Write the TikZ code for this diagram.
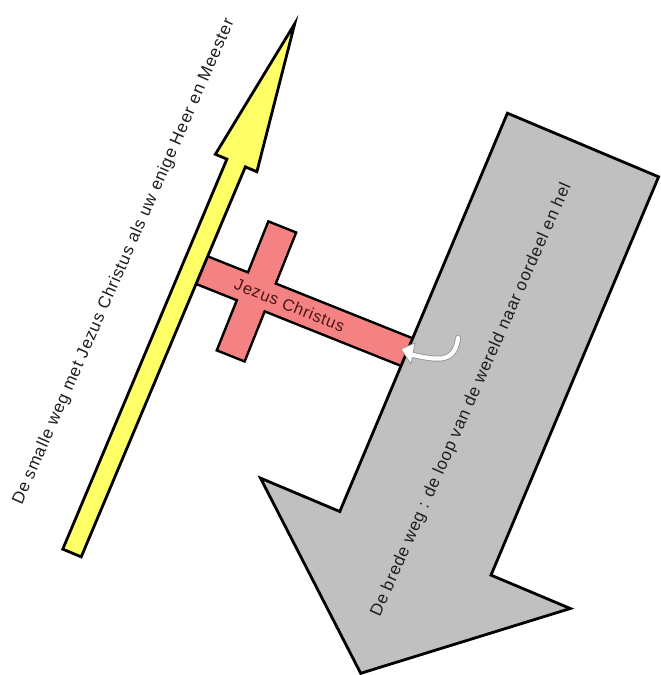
\documentclass[tikz,border=0pt]{standalone}
\usepackage{fontspec}
\setmainfont{Liberation Sans}
\newfontfamily\lblfont[LetterSpace=4.5]{Liberation Sans}
\definecolor{ylw}{RGB}{255,255,102}
\definecolor{pnk}{RGB}{245,130,130}
\definecolor{gry}{RGB}{192,192,192}
\definecolor{txtdark}{RGB}{30,30,30}
\definecolor{txtred}{RGB}{75,20,20}
\definecolor{hookedge}{RGB}{150,150,150}
\tikzset{
  shapeline/.style={draw=black, line width=2.8pt, line join=miter},
  lbl/.style={font=\lblfont\fontsize{17}{20}\selectfont, text=txtdark, inner sep=0pt},
  crosslbl/.style={font=\lblfont\fontsize{16.5}{20}\selectfont, text=txtred, inner sep=0pt},
}
\begin{document}
\begin{tikzpicture}[x=1pt,y=-1pt]
\useasboundingbox (0,0) rectangle (661,675);
\fill[white] (0,0) rectangle (661,675);
% cross (under the two arrows)
\begin{scope}[shift={(256.3pt,-291.9pt)}, x={(0.928pt,-0.371pt)}, y={(-0.371pt,-0.928pt)}]
  \filldraw[shapeline, fill=pnk, line width=2.4pt]
    (-64,-15) -- (-15,-15) -- (-15,-70) -- (15,-70) -- (15,-15) -- (172,-15)
    -- (172,15) -- (15,15) -- (15,69) -- (-15,69) -- (-15,15) -- (-64,15) -- cycle;
  \node[crosslbl, rotate=-22] (jc) at (36,0) {Jezus Christus};
\end{scope}
% narrow yellow arrow
\begin{scope}[shift={(72pt,-553pt)}, x={(0.388pt,0.922pt)}, y={(0.922pt,-0.388pt)}]
  \filldraw[shapeline, fill=ylw]
    (0,-10) -- (423,-10) -- (423,-22.5) -- (574,0) -- (423,22.5) -- (423,10) -- (0,10) -- cycle;
\end{scope}
% broad grey arrow
\begin{scope}[shift={(583pt,-145pt)}, x={(-0.388pt,-0.922pt)}, y={(0.922pt,-0.388pt)}]
  \filldraw[shapeline, fill=gry]
    (0,-82) -- (0,82) -- (432,82) -- (432,168) -- (573,0) -- (432,-168) -- (432,-82) -- cycle;
\end{scope}
% small white hook arrow
\coordinate (hooktail) at (458,338);
\coordinate (hookbase) at (413,355);
\coordinate (hooktip) at (401,349);
\draw[hookedge, line width=6pt, line cap=round] (hooktail) .. controls (455,362) and (440,361) .. (hookbase);
\filldraw[fill=white, draw=hookedge, line width=0.8pt, line join=round] (hooktip) -- (415,343) -- (411,364) -- cycle;
\draw[white, line width=4.2pt, line cap=round] (hooktail) .. controls (455,362) and (440,361) .. (hookbase);
% labels
\node[lbl, rotate=66.3] (smal) at (124,262) {De smalle weg met Jezus Christus als uw enige Heer en Meester};
\node[lbl, rotate=66.1] (breed) at (471.5,400) {De brede weg : de loop van de wereld naar oordeel en hel};
\end{tikzpicture}
\end{document}
